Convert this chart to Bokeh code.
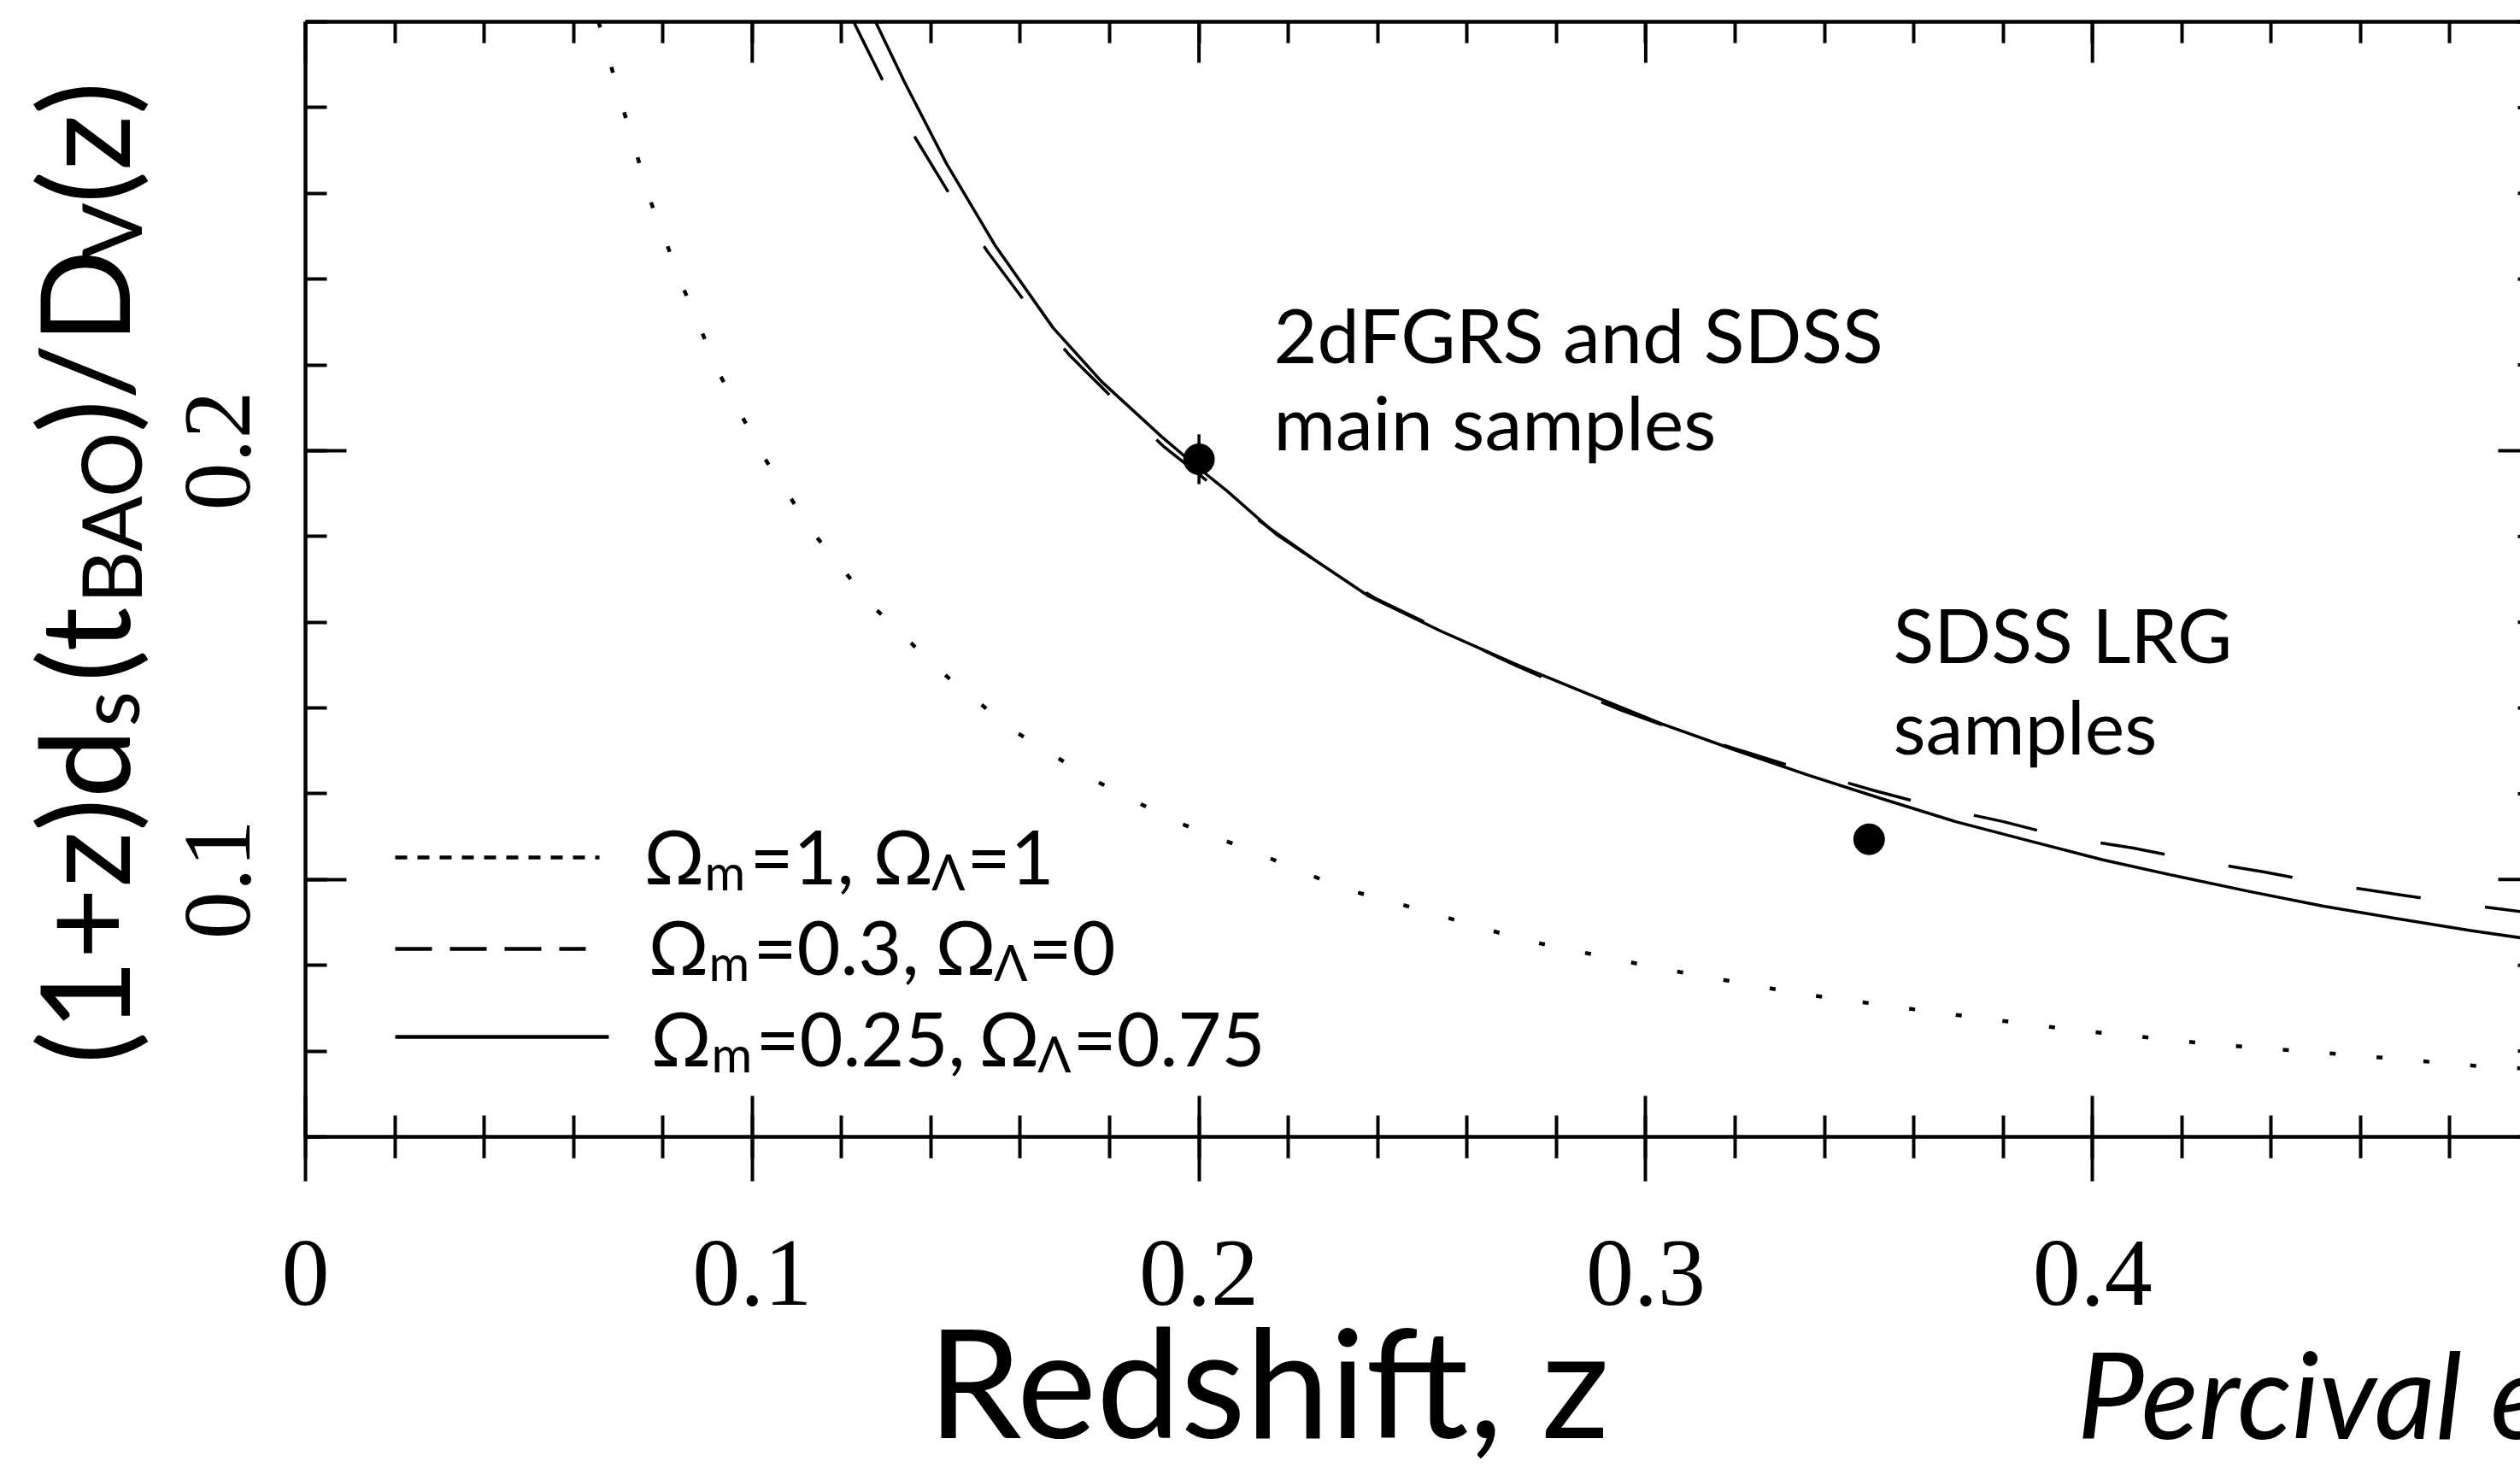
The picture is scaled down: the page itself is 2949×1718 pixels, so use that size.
from bokeh.plotting import figure
from bokeh.models import Range1d, LinearAxis, FixedTicker, Label, Arrow
from bokeh.embed import file_html
from bokeh.resources import INLINE
import math

# --- model curves: (1+z) d_s(t_BAO) / D_V(z) ---------------------------------
# Omega_m = 0.25, Omega_Lambda = 0.75 (solid)
z_solid = [0.1276, 0.1341, 0.1435, 0.1544, 0.1673, 0.1782, 0.1916, 0.2002, 0.2063,
           0.2173, 0.2378, 0.2542, 0.2707, 0.2871, 0.3036, 0.3200, 0.3365, 0.3530,
           0.3694, 0.3859, 0.4023, 0.4188, 0.4352, 0.4517, 0.4681, 0.4846, 0.4960]
v_solid = [0.3000, 0.2859, 0.2669, 0.2478, 0.2287, 0.2161, 0.2033, 0.1957, 0.1906,
           0.1805, 0.1662, 0.1579, 0.1503, 0.1433, 0.1363, 0.1302, 0.1243, 0.1188,
           0.1135, 0.1090, 0.1046, 0.1008, 0.0972, 0.0938, 0.0909, 0.0881, 0.0864]

# Omega_m = 0.3, Omega_Lambda = 0 (dashed)
z_dash = [0.1227, 0.1294, 0.1367, 0.1441, 0.1526, 0.1612, 0.1709, 0.1813, 0.1923,
          0.2038, 0.2158, 0.2280, 0.2394, 0.2542, 0.2674, 0.2814, 0.2945, 0.3088,
          0.3225, 0.3373, 0.3510, 0.3658, 0.3801, 0.3944, 0.4089, 0.4237, 0.4382,
          0.4530, 0.4673, 0.4821, 0.4960]
v_dash = [0.3000, 0.2859, 0.2726, 0.2599, 0.2465, 0.2345, 0.2224, 0.2116, 0.2008,
          0.1913, 0.1819, 0.1730, 0.1656, 0.1582, 0.1516, 0.1450, 0.1395, 0.1341,
          0.1297, 0.1249, 0.1208, 0.1167, 0.1135, 0.1097, 0.1074, 0.1043, 0.1018,
          0.0989, 0.0967, 0.0944, 0.0925]

# Omega_m = 1, Omega_Lambda = 1 (dotted)
z_dot = [0.0656, 0.0715, 0.0774, 0.0847, 0.0928, 0.1026, 0.1139, 0.1270, 0.1422,
         0.1581, 0.1758, 0.1941, 0.2130, 0.2325, 0.2427, 0.2731, 0.3036, 0.3345,
         0.3653, 0.3961, 0.4270, 0.4579, 0.4887, 0.4960]
v_dot = [0.3000, 0.2783, 0.2577, 0.2376, 0.2176, 0.1985, 0.1805, 0.1637, 0.1485,
         0.1350, 0.1236, 0.1138, 0.1062, 0.0978, 0.0950, 0.0858, 0.0792, 0.0734,
         0.0690, 0.0649, 0.0616, 0.0591, 0.0563, 0.0560]

# BAO measurements
z_obs = [0.20, 0.35]
v_obs = [0.1980, 0.1094]
e_obs = [0.0058, 0.0033]

# axis ticks
x_major = [0.0, 0.1, 0.2, 0.3, 0.4]
x_minor = [round(0.02 * i, 2) for i in range(0, 26)]
x_labels = ["0", "0.1", "0.2", "0.3", "0.4"]
y_major = [0.1, 0.2]
y_minor = [round(0.04 + 0.02 * i, 2) for i in range(0, 14)]
y_labels = ["0.1", "0.2"]

X_MIN, X_MAX = 0.0, 0.5
Y_MIN, Y_MAX = 0.04, 0.30

# page geometry (pixels): the axes box starts at (L, T); its right edge
# lies just past the right side of the page
W, H = 2949, 1718
L, T, BOT = 357, 25, 1330
SX = 5228.0                      # pixels per unit of z
SY = (BOT - T) / (Y_MAX - Y_MIN)  # pixels per unit of the ratio


def dx(px):
    return X_MIN + (px - L) / SX


def dy(py):
    return Y_MAX - (py - T) / SY


p = figure(width=W, height=H, output_backend="svg", toolbar_location=None,
           x_range=Range1d(dx(0), dx(W)), y_range=Range1d(dy(H), dy(0)),
           x_axis_type=None, y_axis_type=None, min_border=0)
p.outline_line_color = None
p.grid.visible = False
p.background_fill_color = "white"
p.border_fill_color = "white"

TICK_FONT = "Liberation Serif"
SANS = "Lato"
MAJ, MIN_ = 48, 25


def style_axis(ax, tin, tout, mtin, mtout):
    ax.axis_line_width = 4.5
    ax.axis_line_color = "black"
    ax.major_tick_line_width = 4
    ax.minor_tick_line_width = 4
    ax.major_tick_in = tin
    ax.major_tick_out = tout
    ax.minor_tick_in = mtin
    ax.minor_tick_out = mtout
    ax.major_label_text_font = TICK_FONT
    ax.major_label_text_color = "black"


xb = LinearAxis(ticker=FixedTicker(ticks=x_major, minor_ticks=x_minor),
                major_label_overrides=dict(zip(x_major, x_labels)),
                fixed_location=Y_MIN, bounds=(X_MIN, X_MAX))
style_axis(xb, MAJ, 52, MIN_, MIN_)
xb.major_label_text_font_size = "112px"
xb.major_label_standoff = 70
p.add_layout(xb, "below")

xt = LinearAxis(ticker=FixedTicker(ticks=[], minor_ticks=x_minor),
                fixed_location=Y_MAX, bounds=(X_MIN, X_MAX))
style_axis(xt, MAJ, 0, MIN_, 0)
p.add_layout(xt, "above")

yl = LinearAxis(ticker=FixedTicker(ticks=y_major, minor_ticks=y_minor),
                major_label_overrides=dict(zip(y_major, y_labels)),
                fixed_location=X_MIN, bounds=(Y_MIN, Y_MAX))
style_axis(yl, MAJ, 0, MIN_, 0)
yl.major_label_text_font_size = "112px"
yl.major_label_orientation = "vertical"
yl.major_label_standoff = 65
p.add_layout(yl, "left")

# long ticks of the upper frame edge at the labelled z values
p.segment(x0=x_major, y0=[Y_MAX - MAJ / SY] * len(x_major), x1=x_major,
          y1=[Y_MAX] * len(x_major), line_color="black", line_width=4)

# inward ticks of the right-hand frame edge (only their tips are in view)
y_all = sorted(set(y_minor + y_major))
tick_len = [MAJ / SX if t in y_major else MIN_ / SX for t in y_all]
p.segment(x0=[X_MAX - d for d in tick_len], y0=y_all, x1=[X_MAX] * len(y_all),
          y1=y_all, line_color="black", line_width=4)

# model curves
p.line(z_dot, v_dot, line_color="black", line_width=4.5, line_dash="7 48")
p.line(z_dash, v_dash, line_color="black", line_width=3.5, line_dash="76 76")
p.line(z_solid, v_solid, line_color="black", line_width=3.5, line_join="round")

# measurements with error bars
p.segment(x0=z_obs, x1=z_obs, y0=[v - e for v, e in zip(v_obs, e_obs)],
          y1=[v + e for v, e in zip(v_obs, e_obs)], line_color="black", line_width=3.5)
p.scatter(z_obs, v_obs, size=36, marker="circle", fill_color="black", line_color="black")

BASE_SHIFT = 0.43   # baseline correction, in em


def text(px, py, s, size, angle=0.0, style="normal", font=SANS):
    # (px, py) is the start of the text baseline in page pixels
    if angle:
        px -= BASE_SHIFT * size
    else:
        py -= BASE_SHIFT * size
    p.add_layout(Label(x=dx(px), y=dy(py), text=s, text_font=font,
                       text_font_size=f"{size}px", text_font_style=style,
                       text_color="black", text_align="left",
                       text_baseline="alphabetic", angle=angle))


# annotations
text(1490, 428, "2dFGRS and SDSS", 88)
text(1490, 530, "main samples", 88)
text(2215, 779, "SDSS LRG", 88)
text(2215, 886, "samples", 88)

# legend: sample line, then (text, x) pieces; "m" and "Λ" are subscripts
MAIN, SUB = 88, 58
legend_rows = [
    (1003, "14 12", 701, 1038, [("Ω", 753), ("m", 824), ("=1,", 877), ("Ω", 1021), ("=1", 1131)]),
    (1110, "43 21", 685, 1144, [("Ω", 758), ("m", 829), ("=0.3,", 881), ("Ω", 1094), ("=0", 1203)]),
    (1213, None, 712, 1251, [("Ω", 761), ("m", 832), ("=0.25,", 884), ("Ω", 1145), ("=0.75", 1255)]),
]
for ly, dash, xe, base, parts in legend_rows:
    kw = dict(line_color="black", line_width=4.5)
    if dash:
        kw["line_dash"] = dash
    p.add_layout(Arrow(x_start=dx(462), y_start=dy(ly), x_end=dx(xe), y_end=dy(ly),
                       end=None, **kw))
    (o1, x1), (m, xm), (v1, xv1), (o2, x2), (v2, xv2) = parts
    text(x1, base, o1, MAIN)
    text(xm, base + 6, m, SUB)
    text(xv1, base, v1, MAIN)
    text(x2, base, o2, MAIN)
    text(x2 + 0.78 * MAIN, base + 6, "Λ", SUB)
    text(xv2, base, v2, MAIN)

# rotated y label with subscripts
YM, YS = 145, 96
ylab = [("(1+z)d", 1245, 158, YM), ("s", 850, 166, YS), ("(t", 798, 158, YM),
        ("BAO", 706, 169, YS), (")/D", 506, 158, YM), ("V", 302, 169, YS),
        ("(z)", 238, 158, YM)]
for s, py, bx, size in ylab:
    text(bx, py, s, size, angle=math.pi / 2)

# x label and reference
text(1085, 1690, "Redshift, z", 176)
text(2430, 1690, "Percival et al.", 140, style="italic")

open("out.html", "w").write(file_html(p, INLINE))
